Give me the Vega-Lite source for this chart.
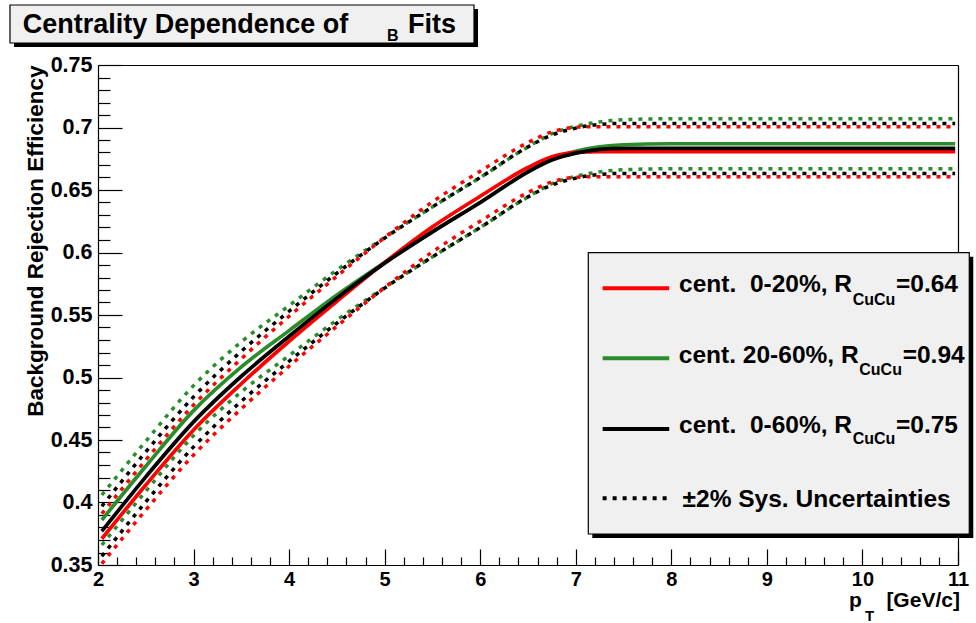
{
  "$schema": "https://vega.github.io/schema/vega-lite/v6.json",
  "width": 860,
  "height": 500,
  "autosize": {"type": "none"},
  "padding": {"left": 98, "top": 65, "right": 18, "bottom": 58},
  "background": "white",
  "config": {
    "view": {"stroke": null},
    "font": "Liberation Sans",
    "axis": {
      "domainColor": "black", "domainWidth": 1.2,
      "tickColor": "black", "tickWidth": 1.2,
      "labelFont": "Liberation Sans", "labelFontWeight": "bold", "labelFontSize": 20, "labelColor": "black",
      "titleFont": "Liberation Sans", "titleFontWeight": "bold", "titleColor": "black",
      "grid": false, "labelFlush": false, "labelOverlap": false, "labelBound": false
    }
  },
  "resolve": {"axis": {"x": "independent", "y": "independent"}},
  "datasets": {
    "curves": [
      {"s":"green","k":"c","x":2.04,"y":0.386},{"s":"green","k":"c","x":2.5,"y":0.429},{"s":"green","k":"c","x":3,"y":0.4735},{"s":"green","k":"c","x":3.5,"y":0.5085},{"s":"green","k":"c","x":4,"y":0.5375},{"s":"green","k":"c","x":4.5,"y":0.566},{"s":"green","k":"c","x":5,"y":0.592},{"s":"green","k":"c","x":5.5,"y":0.6165},{"s":"green","k":"c","x":6,"y":0.640},{"s":"green","k":"c","x":6.5,"y":0.6645},{"s":"green","k":"c","x":6.75,"y":0.675},{"s":"green","k":"c","x":7,"y":0.681},{"s":"green","k":"c","x":7.25,"y":0.6845},{"s":"green","k":"c","x":7.5,"y":0.6862},{"s":"green","k":"c","x":8,"y":0.687},{"s":"green","k":"c","x":10.97,"y":0.687},
      {"s":"green","k":"u","x":2.04,"y":0.406},{"s":"green","k":"u","x":2.5,"y":0.449},{"s":"green","k":"u","x":3,"y":0.4935},{"s":"green","k":"u","x":3.5,"y":0.5285},{"s":"green","k":"u","x":4,"y":0.5575},{"s":"green","k":"u","x":4.5,"y":0.586},{"s":"green","k":"u","x":5,"y":0.612},{"s":"green","k":"u","x":5.5,"y":0.6365},{"s":"green","k":"u","x":6,"y":0.660},{"s":"green","k":"u","x":6.5,"y":0.6845},{"s":"green","k":"u","x":6.75,"y":0.695},{"s":"green","k":"u","x":7,"y":0.701},{"s":"green","k":"u","x":7.25,"y":0.7045},{"s":"green","k":"u","x":7.5,"y":0.7062},{"s":"green","k":"u","x":8,"y":0.707},{"s":"green","k":"u","x":10.97,"y":0.707},
      {"s":"green","k":"l","x":2.04,"y":0.366},{"s":"green","k":"l","x":2.5,"y":0.409},{"s":"green","k":"l","x":3,"y":0.4535},{"s":"green","k":"l","x":3.5,"y":0.4885},{"s":"green","k":"l","x":4,"y":0.5175},{"s":"green","k":"l","x":4.5,"y":0.546},{"s":"green","k":"l","x":5,"y":0.572},{"s":"green","k":"l","x":5.5,"y":0.5965},{"s":"green","k":"l","x":6,"y":0.620},{"s":"green","k":"l","x":6.5,"y":0.6445},{"s":"green","k":"l","x":6.75,"y":0.655},{"s":"green","k":"l","x":7,"y":0.661},{"s":"green","k":"l","x":7.25,"y":0.6645},{"s":"green","k":"l","x":7.5,"y":0.6662},{"s":"green","k":"l","x":8,"y":0.667},{"s":"green","k":"l","x":10.97,"y":0.667},
      {"s":"red","k":"c","x":2.04,"y":0.371},{"s":"red","k":"c","x":2.5,"y":0.414},{"s":"red","k":"c","x":3,"y":0.458},{"s":"red","k":"c","x":3.5,"y":0.495},{"s":"red","k":"c","x":4,"y":0.529},{"s":"red","k":"c","x":4.5,"y":0.561},{"s":"red","k":"c","x":5,"y":0.592},{"s":"red","k":"c","x":5.5,"y":0.6205},{"s":"red","k":"c","x":6,"y":0.645},{"s":"red","k":"c","x":6.5,"y":0.668},{"s":"red","k":"c","x":6.75,"y":0.6765},{"s":"red","k":"c","x":7,"y":0.6802},{"s":"red","k":"c","x":7.25,"y":0.6807},{"s":"red","k":"c","x":7.5,"y":0.6807},{"s":"red","k":"c","x":8,"y":0.6807},{"s":"red","k":"c","x":10.97,"y":0.6807},
      {"s":"red","k":"u","x":2.04,"y":0.391},{"s":"red","k":"u","x":2.5,"y":0.434},{"s":"red","k":"u","x":3,"y":0.478},{"s":"red","k":"u","x":3.5,"y":0.515},{"s":"red","k":"u","x":4,"y":0.549},{"s":"red","k":"u","x":4.5,"y":0.581},{"s":"red","k":"u","x":5,"y":0.612},{"s":"red","k":"u","x":5.5,"y":0.6405},{"s":"red","k":"u","x":6,"y":0.665},{"s":"red","k":"u","x":6.5,"y":0.688},{"s":"red","k":"u","x":6.75,"y":0.6965},{"s":"red","k":"u","x":7,"y":0.7002},{"s":"red","k":"u","x":7.25,"y":0.7007},{"s":"red","k":"u","x":7.5,"y":0.7007},{"s":"red","k":"u","x":8,"y":0.7007},{"s":"red","k":"u","x":10.97,"y":0.7007},
      {"s":"red","k":"l","x":2.04,"y":0.351},{"s":"red","k":"l","x":2.5,"y":0.394},{"s":"red","k":"l","x":3,"y":0.438},{"s":"red","k":"l","x":3.5,"y":0.475},{"s":"red","k":"l","x":4,"y":0.509},{"s":"red","k":"l","x":4.5,"y":0.541},{"s":"red","k":"l","x":5,"y":0.572},{"s":"red","k":"l","x":5.5,"y":0.6005},{"s":"red","k":"l","x":6,"y":0.625},{"s":"red","k":"l","x":6.5,"y":0.648},{"s":"red","k":"l","x":6.75,"y":0.6565},{"s":"red","k":"l","x":7,"y":0.6602},{"s":"red","k":"l","x":7.25,"y":0.6607},{"s":"red","k":"l","x":7.5,"y":0.6607},{"s":"red","k":"l","x":8,"y":0.6607},{"s":"red","k":"l","x":10.97,"y":0.6607},
      {"s":"black","k":"c","x":2.04,"y":0.377},{"s":"black","k":"c","x":2.5,"y":0.4205},{"s":"black","k":"c","x":3,"y":0.4645},{"s":"black","k":"c","x":3.5,"y":0.501},{"s":"black","k":"c","x":4,"y":0.533},{"s":"black","k":"c","x":4.5,"y":0.5635},{"s":"black","k":"c","x":5,"y":0.5915},{"s":"black","k":"c","x":5.5,"y":0.6165},{"s":"black","k":"c","x":6,"y":0.640},{"s":"black","k":"c","x":6.5,"y":0.6645},{"s":"black","k":"c","x":6.75,"y":0.674},{"s":"black","k":"c","x":7,"y":0.6795},{"s":"black","k":"c","x":7.25,"y":0.6825},{"s":"black","k":"c","x":7.5,"y":0.6833},{"s":"black","k":"c","x":8,"y":0.6833},{"s":"black","k":"c","x":10.97,"y":0.6833},
      {"s":"black","k":"u","x":2.04,"y":0.397},{"s":"black","k":"u","x":2.5,"y":0.4405},{"s":"black","k":"u","x":3,"y":0.4845},{"s":"black","k":"u","x":3.5,"y":0.521},{"s":"black","k":"u","x":4,"y":0.553},{"s":"black","k":"u","x":4.5,"y":0.5835},{"s":"black","k":"u","x":5,"y":0.6115},{"s":"black","k":"u","x":5.5,"y":0.6365},{"s":"black","k":"u","x":6,"y":0.660},{"s":"black","k":"u","x":6.5,"y":0.6845},{"s":"black","k":"u","x":6.75,"y":0.694},{"s":"black","k":"u","x":7,"y":0.6995},{"s":"black","k":"u","x":7.25,"y":0.7025},{"s":"black","k":"u","x":7.5,"y":0.7033},{"s":"black","k":"u","x":8,"y":0.7033},{"s":"black","k":"u","x":10.97,"y":0.7033},
      {"s":"black","k":"l","x":2.04,"y":0.357},{"s":"black","k":"l","x":2.5,"y":0.4005},{"s":"black","k":"l","x":3,"y":0.4445},{"s":"black","k":"l","x":3.5,"y":0.481},{"s":"black","k":"l","x":4,"y":0.513},{"s":"black","k":"l","x":4.5,"y":0.5435},{"s":"black","k":"l","x":5,"y":0.5715},{"s":"black","k":"l","x":5.5,"y":0.5965},{"s":"black","k":"l","x":6,"y":0.620},{"s":"black","k":"l","x":6.5,"y":0.6445},{"s":"black","k":"l","x":6.75,"y":0.654},{"s":"black","k":"l","x":7,"y":0.6595},{"s":"black","k":"l","x":7.25,"y":0.6625},{"s":"black","k":"l","x":7.5,"y":0.6633},{"s":"black","k":"l","x":8,"y":0.6633},{"s":"black","k":"l","x":10.97,"y":0.6633}
    ],
    "boxes": [
      {"b":"shadow","x":1.121,"x2":5.977,"y":0.7948,"y2":0.7644},
      {"b":"box","x":1.079,"x2":5.935,"y":0.798,"y2":0.7676},
      {"b":"shadow","x":7.173,"x2":11.160,"y":0.59664,"y2":0.3716},
      {"b":"box","x":7.131,"x2":11.118,"y":0.59984,"y2":0.3748}
    ],
    "legend": [
      {"s":"red","k":"c","x":7.281,"x2":7.978,"y":0.57136},
      {"s":"green","k":"c","x":7.281,"x2":7.978,"y":0.51536},
      {"s":"black","k":"c","x":7.281,"x2":7.978,"y":0.4588},
      {"s":"black","k":"d","x":7.281,"x2":7.978,"y":0.40336}
    ],
    "texts": [
      {"g":"big","t":"Centrality Dependence of","x":1.212,"y":0.7754},
      {"g":"big","t":"Fits","x":5.244,"y":0.7754},
      {"g":"tsub","t":"B","x":5.024,"y":0.7692},
      {"g":"legr","t":"cent.\u00a0 0-20%, R","x":9.891,"y":0.56864},
      {"g":"leg","t":"=0.64","x":10.351,"y":0.56864},
      {"g":"lsub","t":"CuCu","x":9.898,"y":0.55776},
      {"g":"legr","t":"cent. 20-60%, R","x":9.960,"y":0.51184},
      {"g":"leg","t":"=0.94","x":10.421,"y":0.51184},
      {"g":"lsub","t":"CuCu","x":9.967,"y":0.502},
      {"g":"legr","t":"cent.\u00a0 0-60%, R","x":9.891,"y":0.45584},
      {"g":"leg","t":"=0.75","x":10.351,"y":0.45584},
      {"g":"lsub","t":"CuCu","x":9.898,"y":0.44656},
      {"g":"leg","t":"±2% Sys. Uncertainties","x":8.118,"y":0.39664},
      {"g":"ax","t":"p","x":9.859,"y":0.3164},
      {"g":"axr","t":"[GeV/c]","x":11.02,"y":0.3164},
      {"g":"axsub","t":"T","x":10.027,"y":0.3056}
    ]
  },
  "layer": [
    {
      "data": {"name": "curves"},
      "transform": [{"filter": "datum.k != 'c'"}],
      "mark": {"type": "line", "strokeWidth": 3.5, "strokeDash": [4, 6], "interpolate": "monotone"},
      "encoding": {
        "x": {"field": "x", "type": "quantitative", "scale": {"domain": [2, 11], "nice": false, "zero": false},
          "axis": {"orient": "bottom", "values": [2.2,2.4,2.6,2.8,3.2,3.4,3.6,3.8,4.2,4.4,4.6,4.8,5.2,5.4,5.6,5.8,6.2,6.4,6.6,6.8,7.2,7.4,7.6,7.8,8.2,8.4,8.6,8.8,9.2,9.4,9.6,9.8,10.2,10.4,10.6,10.8],
            "tickSize": -8, "labels": false, "domain": false, "title": null}},
        "y": {"field": "y", "type": "quantitative", "scale": {"domain": [0.35, 0.75], "nice": false, "zero": false},
          "axis": {"orient": "left", "values": [0.36,0.37,0.38,0.39,0.41,0.42,0.43,0.44,0.46,0.47,0.48,0.49,0.51,0.52,0.53,0.54,0.56,0.57,0.58,0.59,0.61,0.62,0.63,0.64,0.66,0.67,0.68,0.69,0.71,0.72,0.73,0.74],
            "tickSize": -12, "labels": false, "domain": false, "title": null}},
        "color": {"field": "s", "type": "nominal", "scale": {"domain": ["red", "green", "black"], "range": ["#ff0000", "#2b8c2b", "#000000"]}, "legend": null},
        "detail": [{"field": "s"}, {"field": "k"}],
        "order": {"field": "x", "type": "quantitative"}
      }
    },
    {
      "data": {"name": "curves"},
      "transform": [{"filter": "datum.k == 'c'"}],
      "mark": {"type": "line", "strokeWidth": 3.7, "interpolate": "monotone"},
      "encoding": {
        "x": {"field": "x", "type": "quantitative", "scale": {"domain": [2, 11], "nice": false, "zero": false},
          "axis": {"orient": "bottom", "values": [2,3,4,5,6,7,8,9,10,11], "format": "d", "tickSize": -16, "labelPadding": 20, "labelFontSize": 20, "domain": true, "title": null}},
        "y": {"field": "y", "type": "quantitative", "scale": {"domain": [0.35, 0.75], "nice": false, "zero": false},
          "axis": {"orient": "left", "values": [0.35,0.4,0.45,0.5,0.55,0.6,0.65,0.7,0.75], "format": ".2~f", "tickSize": -24, "labelPadding": 30, "labelFontSize": 21.5, "domain": true,
            "title": "Background Rejection Efficiency", "titleFontSize": 22.5, "titleAnchor": "end", "titlePadding": 3}},
        "color": {"field": "s", "type": "nominal", "scale": {"domain": ["red", "green", "black"], "range": ["#ff0000", "#2b8c2b", "#000000"]}, "legend": null},
        "detail": {"field": "s"},
        "order": {"field": "x", "type": "quantitative"}
      }
    },
    {
      "data": {"name": "boxes"},
      "transform": [{"filter": "datum.b == 'shadow'"}],
      "mark": {"type": "rect", "fill": "#000000"},
      "encoding": {
        "x": {"field": "x", "type": "quantitative", "scale": {"domain": [2, 11], "nice": false, "zero": false}, "axis": null},
        "x2": {"field": "x2"},
        "y": {"field": "y", "type": "quantitative", "scale": {"domain": [0.35, 0.75], "nice": false, "zero": false}, "axis": null},
        "y2": {"field": "y2"}
      }
    },
    {
      "data": {"name": "boxes"},
      "transform": [{"filter": "datum.b == 'box'"}],
      "mark": {"type": "rect", "fill": "#f0f0f0", "stroke": "#000000", "strokeWidth": 1.2},
      "encoding": {
        "x": {"field": "x", "type": "quantitative", "scale": {"domain": [2, 11], "nice": false, "zero": false}, "axis": null},
        "x2": {"field": "x2"},
        "y": {"field": "y", "type": "quantitative", "scale": {"domain": [0.35, 0.75], "nice": false, "zero": false}, "axis": null},
        "y2": {"field": "y2"}
      }
    },
    {
      "data": {"name": "legend"},
      "mark": {"type": "rule", "strokeWidth": 4},
      "encoding": {
        "x": {"field": "x", "type": "quantitative", "scale": {"domain": [2, 11], "nice": false, "zero": false},
          "axis": {"orient": "top", "ticks": false, "labels": false, "domain": true, "title": null}},
        "x2": {"field": "x2"},
        "y": {"field": "y", "type": "quantitative", "scale": {"domain": [0.35, 0.75], "nice": false, "zero": false},
          "axis": {"orient": "right", "ticks": false, "labels": false, "domain": true, "title": null}},
        "color": {"field": "s", "type": "nominal", "scale": {"domain": ["red", "green", "black"], "range": ["#ff0000", "#2b8c2b", "#000000"]}, "legend": null},
        "strokeDash": {"field": "k", "type": "nominal", "scale": {"domain": ["c", "d"], "range": [[1, 0], [4, 6]]}, "legend": null}
      }
    },
    {
      "data": {"name": "texts"},
      "transform": [{"filter": "datum.g == 'big'"}],
      "mark": {"type": "text", "font": "Liberation Sans", "fontWeight": "bold", "fontSize": 27, "align": "left", "baseline": "alphabetic", "color": "black"},
      "encoding": {
        "x": {"field": "x", "type": "quantitative", "scale": {"domain": [2, 11], "nice": false, "zero": false}, "axis": null},
        "y": {"field": "y", "type": "quantitative", "scale": {"domain": [0.35, 0.75], "nice": false, "zero": false}, "axis": null},
        "text": {"field": "t"}
      }
    },
    {
      "data": {"name": "texts"},
      "transform": [{"filter": "datum.g == 'tsub' || datum.g == 'lsub'"}],
      "mark": {"type": "text", "font": "Liberation Sans", "fontWeight": "bold", "fontSize": 16, "align": "left", "baseline": "alphabetic", "color": "black"},
      "encoding": {
        "x": {"field": "x", "type": "quantitative", "scale": {"domain": [2, 11], "nice": false, "zero": false}, "axis": null},
        "y": {"field": "y", "type": "quantitative", "scale": {"domain": [0.35, 0.75], "nice": false, "zero": false}, "axis": null},
        "text": {"field": "t"}
      }
    },
    {
      "data": {"name": "texts"},
      "transform": [{"filter": "datum.g == 'leg'"}],
      "mark": {"type": "text", "font": "Liberation Sans", "fontWeight": "bold", "fontSize": 24.5, "align": "left", "baseline": "alphabetic", "color": "black"},
      "encoding": {
        "x": {"field": "x", "type": "quantitative", "scale": {"domain": [2, 11], "nice": false, "zero": false}, "axis": null},
        "y": {"field": "y", "type": "quantitative", "scale": {"domain": [0.35, 0.75], "nice": false, "zero": false}, "axis": null},
        "text": {"field": "t"}
      }
    },
    {
      "data": {"name": "texts"},
      "transform": [{"filter": "datum.g == 'legr'"}],
      "mark": {"type": "text", "font": "Liberation Sans", "fontWeight": "bold", "fontSize": 24.5, "align": "right", "baseline": "alphabetic", "color": "black"},
      "encoding": {
        "x": {"field": "x", "type": "quantitative", "scale": {"domain": [2, 11], "nice": false, "zero": false}, "axis": null},
        "y": {"field": "y", "type": "quantitative", "scale": {"domain": [0.35, 0.75], "nice": false, "zero": false}, "axis": null},
        "text": {"field": "t"}
      }
    },
    {
      "data": {"name": "texts"},
      "transform": [{"filter": "datum.g == 'ax'"}],
      "mark": {"type": "text", "font": "Liberation Sans", "fontWeight": "bold", "fontSize": 21, "align": "left", "baseline": "alphabetic", "color": "black"},
      "encoding": {
        "x": {"field": "x", "type": "quantitative", "scale": {"domain": [2, 11], "nice": false, "zero": false}, "axis": null},
        "y": {"field": "y", "type": "quantitative", "scale": {"domain": [0.35, 0.75], "nice": false, "zero": false}, "axis": null},
        "text": {"field": "t"}
      }
    },
    {
      "data": {"name": "texts"},
      "transform": [{"filter": "datum.g == 'axr'"}],
      "mark": {"type": "text", "font": "Liberation Sans", "fontWeight": "bold", "fontSize": 21, "align": "right", "baseline": "alphabetic", "color": "black"},
      "encoding": {
        "x": {"field": "x", "type": "quantitative", "scale": {"domain": [2, 11], "nice": false, "zero": false}, "axis": null},
        "y": {"field": "y", "type": "quantitative", "scale": {"domain": [0.35, 0.75], "nice": false, "zero": false}, "axis": null},
        "text": {"field": "t"}
      }
    },
    {
      "data": {"name": "texts"},
      "transform": [{"filter": "datum.g == 'axsub'"}],
      "mark": {"type": "text", "font": "Liberation Sans", "fontWeight": "bold", "fontSize": 15, "align": "left", "baseline": "alphabetic", "color": "black"},
      "encoding": {
        "x": {"field": "x", "type": "quantitative", "scale": {"domain": [2, 11], "nice": false, "zero": false}, "axis": null},
        "y": {"field": "y", "type": "quantitative", "scale": {"domain": [0.35, 0.75], "nice": false, "zero": false}, "axis": null},
        "text": {"field": "t"}
      }
    }
  ]
}
